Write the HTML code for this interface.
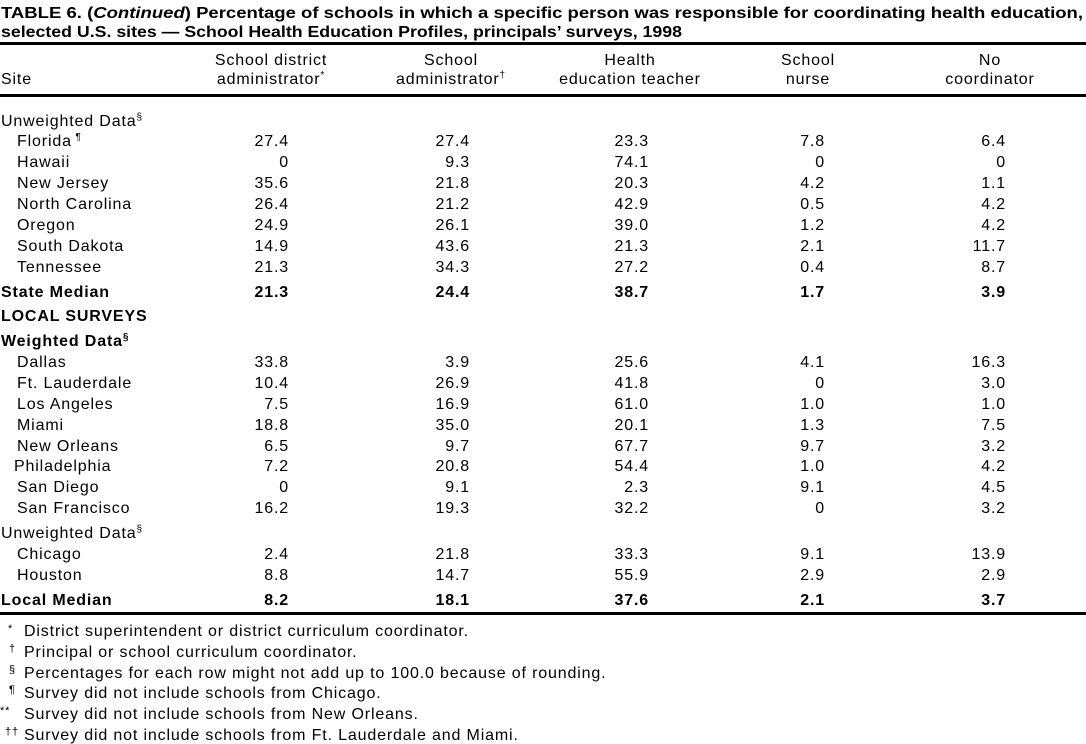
<!DOCTYPE html>
<html><head><meta charset="utf-8"><style>
html,body{margin:0;padding:0;background:#fff;}
svg{display:block;font-family:"Liberation Sans",Arial,sans-serif;}
text{font-size:16px;fill:#000;letter-spacing:0.85px;}
.t{letter-spacing:0;}
.b{font-weight:bold;}
.n{text-anchor:end;}
.c{text-anchor:middle;}
</style></head><body>
<svg width="1086" height="744" viewBox="0 0 1086 744" xmlns="http://www.w3.org/2000/svg">
<text class="b t" x="1" y="18" textLength="1082" lengthAdjust="spacingAndGlyphs">TABLE 6. (<tspan font-style="italic">Continued</tspan>) Percentage of schools in which a specific person was responsible for coordinating health education,</text>
<text class="b t" x="1" y="37" textLength="681" lengthAdjust="spacingAndGlyphs">selected U.S. sites — School Health Education Profiles, principals’ surveys, 1998</text>
<rect x="0" y="42" width="1086" height="3"/>
<text x="1" y="84">Site</text>
<text class="c" x="271" y="65">School district</text>
<text class="c" x="271" y="84">administrator<tspan dy="-6" style="font-size:10px">*</tspan></text>
<text class="c" x="451" y="65">School</text>
<text class="c" x="451" y="84">administrator<tspan dy="-6" style="font-size:10px">†</tspan></text>
<text class="c" x="630" y="65">Health</text>
<text class="c" x="630" y="84">education teacher</text>
<text class="c" x="808" y="65">School</text>
<text class="c" x="808" y="84">nurse</text>
<text class="c" x="990" y="65">No</text>
<text class="c" x="990" y="84">coordinator</text>
<rect x="0" y="94" width="1086" height="3"/>

<text x="1" y="126">Unweighted Data<tspan dy="-6" style="font-size:10px">§</tspan></text>
<text x="17" y="146">Florida<tspan dy="-6" style="font-size:10px"> ¶</tspan></text>
<text x="17" y="167">Hawaii</text>
<text x="17" y="188">New Jersey</text>
<text x="17" y="209">North Carolina</text>
<text x="17" y="230">Oregon</text>
<text x="17" y="251">South Dakota</text>
<text x="17" y="272">Tennessee</text>
<text class="b" x="1" y="297">State Median</text>
<text class="b" x="1" y="321">LOCAL SURVEYS</text>
<text class="b" x="1" y="346">Weighted Data<tspan dy="-6" style="font-size:10px">§</tspan></text>
<text x="17" y="367">Dallas</text>
<text x="17" y="388">Ft. Lauderdale</text>
<text x="17" y="409">Los Angeles</text>
<text x="17" y="430">Miami</text>
<text x="17" y="451">New Orleans</text>
<text x="14" y="471">Philadelphia</text>
<text x="17" y="492">San Diego</text>
<text x="17" y="513">San Francisco</text>
<text x="1" y="538">Unweighted Data<tspan dy="-6" style="font-size:10px">§</tspan></text>
<text x="17" y="559">Chicago</text>
<text x="17" y="580">Houston</text>
<text class="b" x="1" y="605">Local Median</text>

<text class="n" x="289" y="146">27.4</text><text class="n" x="470" y="146">27.4</text><text class="n" x="649" y="146">23.3</text><text class="n" x="825" y="146">7.8</text><text class="n" x="1006" y="146">6.4</text>
<text class="n" x="289" y="167">0</text><text class="n" x="470" y="167">9.3</text><text class="n" x="649" y="167">74.1</text><text class="n" x="825" y="167">0</text><text class="n" x="1006" y="167">0</text>
<text class="n" x="289" y="188">35.6</text><text class="n" x="470" y="188">21.8</text><text class="n" x="649" y="188">20.3</text><text class="n" x="825" y="188">4.2</text><text class="n" x="1006" y="188">1.1</text>
<text class="n" x="289" y="209">26.4</text><text class="n" x="470" y="209">21.2</text><text class="n" x="649" y="209">42.9</text><text class="n" x="825" y="209">0.5</text><text class="n" x="1006" y="209">4.2</text>
<text class="n" x="289" y="230">24.9</text><text class="n" x="470" y="230">26.1</text><text class="n" x="649" y="230">39.0</text><text class="n" x="825" y="230">1.2</text><text class="n" x="1006" y="230">4.2</text>
<text class="n" x="289" y="251">14.9</text><text class="n" x="470" y="251">43.6</text><text class="n" x="649" y="251">21.3</text><text class="n" x="825" y="251">2.1</text><text class="n" x="1006" y="251">11.7</text>
<text class="n" x="289" y="272">21.3</text><text class="n" x="470" y="272">34.3</text><text class="n" x="649" y="272">27.2</text><text class="n" x="825" y="272">0.4</text><text class="n" x="1006" y="272">8.7</text>
<text class="n b" x="289" y="297">21.3</text><text class="n b" x="470" y="297">24.4</text><text class="n b" x="649" y="297">38.7</text><text class="n b" x="825" y="297">1.7</text><text class="n b" x="1006" y="297">3.9</text>
<text class="n" x="289" y="367">33.8</text><text class="n" x="470" y="367">3.9</text><text class="n" x="649" y="367">25.6</text><text class="n" x="825" y="367">4.1</text><text class="n" x="1006" y="367">16.3</text>
<text class="n" x="289" y="388">10.4</text><text class="n" x="470" y="388">26.9</text><text class="n" x="649" y="388">41.8</text><text class="n" x="825" y="388">0</text><text class="n" x="1006" y="388">3.0</text>
<text class="n" x="289" y="409">7.5</text><text class="n" x="470" y="409">16.9</text><text class="n" x="649" y="409">61.0</text><text class="n" x="825" y="409">1.0</text><text class="n" x="1006" y="409">1.0</text>
<text class="n" x="289" y="430">18.8</text><text class="n" x="470" y="430">35.0</text><text class="n" x="649" y="430">20.1</text><text class="n" x="825" y="430">1.3</text><text class="n" x="1006" y="430">7.5</text>
<text class="n" x="289" y="451">6.5</text><text class="n" x="470" y="451">9.7</text><text class="n" x="649" y="451">67.7</text><text class="n" x="825" y="451">9.7</text><text class="n" x="1006" y="451">3.2</text>
<text class="n" x="289" y="471">7.2</text><text class="n" x="470" y="471">20.8</text><text class="n" x="649" y="471">54.4</text><text class="n" x="825" y="471">1.0</text><text class="n" x="1006" y="471">4.2</text>
<text class="n" x="289" y="492">0</text><text class="n" x="470" y="492">9.1</text><text class="n" x="649" y="492">2.3</text><text class="n" x="825" y="492">9.1</text><text class="n" x="1006" y="492">4.5</text>
<text class="n" x="289" y="513">16.2</text><text class="n" x="470" y="513">19.3</text><text class="n" x="649" y="513">32.2</text><text class="n" x="825" y="513">0</text><text class="n" x="1006" y="513">3.2</text>
<text class="n" x="289" y="559">2.4</text><text class="n" x="470" y="559">21.8</text><text class="n" x="649" y="559">33.3</text><text class="n" x="825" y="559">9.1</text><text class="n" x="1006" y="559">13.9</text>
<text class="n" x="289" y="580">8.8</text><text class="n" x="470" y="580">14.7</text><text class="n" x="649" y="580">55.9</text><text class="n" x="825" y="580">2.9</text><text class="n" x="1006" y="580">2.9</text>
<text class="n b" x="289" y="605">8.2</text><text class="n b" x="470" y="605">18.1</text><text class="n b" x="649" y="605">37.6</text><text class="n b" x="825" y="605">2.1</text><text class="n b" x="1006" y="605">3.7</text>

<rect x="0" y="612" width="1086" height="3"/>
<text x="8" y="632" style="font-size:11px">*</text><text x="24" y="636">District superintendent or district curriculum coordinator.</text>
<text x="9" y="652" style="font-size:11px">†</text><text x="24" y="657">Principal or school curriculum coordinator.</text>
<text x="9" y="673" style="font-size:11px">§</text><text x="24" y="678">Percentages for each row might not add up to 100.0 because of rounding.</text>
<text x="9" y="693" style="font-size:11px">¶</text><text x="24" y="698">Survey did not include schools from Chicago.</text>
<text x="0" y="714" style="font-size:11px">**</text><text x="24" y="719">Survey did not include schools from New Orleans.</text>
<text x="5" y="735" style="font-size:11px">††</text><text x="24" y="740">Survey did not include schools from Ft. Lauderdale and Miami.</text>
</svg>
</body></html>
